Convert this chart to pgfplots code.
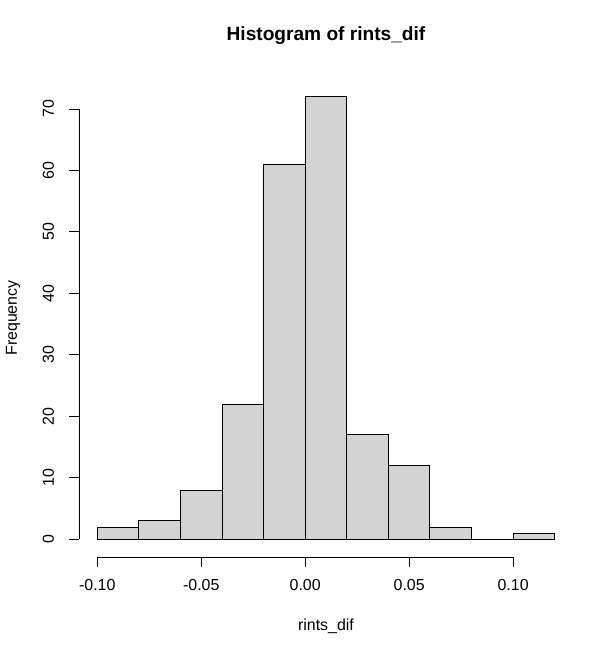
\documentclass[border=0pt]{standalone}
\usepackage{fontspec}
\setmainfont{Liberation Sans}
\usepackage{pgfplots}
\pgfplotsset{compat=1.18}
\definecolor{histfill}{HTML}{D3D3D3}
\begin{document}
\begin{tikzpicture}[font=\fontsize{16}{19.2}\selectfont]
\useasboundingbox (-79bp,-98bp) rectangle (535bp,557bp);
\begin{axis}[
  at={(0,0)}, anchor=south west,
  scale only axis, width=494bp, height=478bp,
  xmin=-0.1088, xmax=0.1288, ymin=-2.88, ymax=74.88,
  axis line style={draw=none},
  xtick={-0.10,-0.05,0,0.05,0.10},
  xticklabels={-0.10,-0.05,0.00,0.05,0.10},
  ytick={0,10,20,30,40,50,60,70},
  yticklabels={0,10,20,30,40,50,60,70},
  xtick pos=bottom, ytick pos=left,
  tick align=outside, major tick length=9.6bp,
  tick style={black, line width=0.9bp},
  xticklabel style={anchor=base, yshift=-24bp, font=\fontsize{16}{19.2}\selectfont},
  yticklabel style={rotate=90, anchor=base, yshift=15.5bp, font=\fontsize{16}{19.2}\selectfont},
  title={\bfseries Histogram of rints\_dif},
  title style={at={(axis description cs:0.5,1)}, anchor=base, yshift=33bp, font=\fontsize{19.2}{23}\selectfont},
  xlabel={rints\_dif},
  xlabel style={at={(axis description cs:0.5,0)}, anchor=base, yshift=-73bp},
  ylabel={Frequency},
  ylabel style={at={(axis description cs:0,0.5)}, rotate=0, anchor=base, yshift=62bp},
  clip=false,
]
\addplot[ybar interval, fill=histfill, draw=black, line width=1bp]
  coordinates {(-0.10,2) (-0.08,3) (-0.06,8) (-0.04,22) (-0.02,61) (0.00,72)
               (0.02,17) (0.04,12) (0.06,2) (0.08,0) (0.10,1) (0.12,1)};
\draw[black, line width=0.9bp] (axis cs:-0.10,-2.88) -- (axis cs:0.10,-2.88);
\draw[black, line width=0.9bp] (axis cs:-0.1088,0) -- (axis cs:-0.1088,70);
\end{axis}
\end{tikzpicture}
\end{document}
